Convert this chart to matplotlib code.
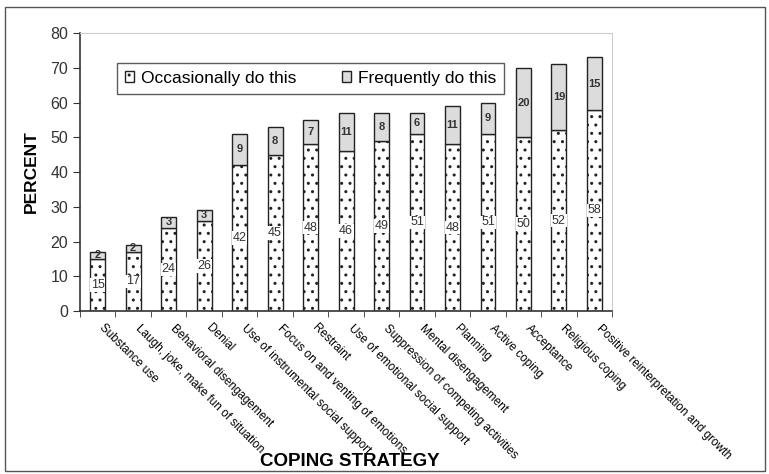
import numpy as np
import matplotlib.pyplot as plt
import matplotlib.transforms as mtransforms
from matplotlib.patches import Rectangle, Patch

plt.rcParams['font.family'] = ['Liberation Sans', 'DejaVu Sans']
plt.rcParams['hatch.linewidth'] = 1.0
plt.rcParams['hatch.color'] = '#777777'

# Coping strategies (x categories)
strategies = ['Substance use', 'Laugh, joke, make fun of situation',
              'Behavioral disengagement', 'Denial',
              'Use of instrumental social support',
              'Focus on and venting of emotions', 'Restraint',
              'Use of emotional social support',
              'Suppression of competing activities', 'Mental disengagement',
              'Planning', 'Active coping', 'Acceptance', 'Religious coping',
              'Positive reinterpretation and growth']

# Percent of respondents
occasionally = [15, 17, 24, 26, 42, 45, 48, 46, 49, 51, 48, 51, 50, 52, 58]
frequently = [2, 2, 3, 3, 9, 8, 7, 11, 8, 6, 11, 9, 20, 19, 15]

fig = plt.figure(figsize=(7.69, 4.74), dpi=100)
ax = fig.add_axes([0.104, 0.344, 0.692, 0.586])

x = np.arange(len(strategies))
w = 0.42
ax.bar(x, occasionally, w, color='white', edgecolor='#222222',
       hatch='..', linewidth=1.0)
ax.bar(x, frequently, w, bottom=occasionally, color='#dcdcdc',
       edgecolor='#222222', linewidth=1.0)

for i in range(len(x)):
    ax.text(x[i], occasionally[i] / 2, str(occasionally[i]), ha='center',
            va='center', fontsize=9, color='#333333',
            bbox=dict(facecolor='white', edgecolor='none', pad=0.5))
    ax.text(x[i], occasionally[i] + frequently[i] / 2, str(frequently[i]),
            ha='center', va='center', fontsize=8, fontweight='bold',
            color='#333333')

ax.set_xlim(-0.5, len(x) - 0.5)
ax.set_ylim(0, 80)
ax.set_yticks(range(0, 81, 10))
ax.tick_params(axis='y', labelsize=11.5, colors='#333333', length=5)
ax.set_xticks(x)
ax.set_xticklabels(strategies, rotation=-45, ha='left', va='top',
                   rotation_mode='anchor', fontsize=8.5)
ax.tick_params(axis='x', length=0, pad=8)
shift = mtransforms.ScaledTranslation(8 / 100, 0, fig.dpi_scale_trans)
for lab in ax.get_xticklabels():
    lab.set_transform(lab.get_transform() + shift)
ax.set_xticks(np.arange(-0.5, len(x), 1), minor=True)
ax.tick_params(axis='x', which='minor', length=4, color='#333333')

for s in ['top', 'right']:
    ax.spines[s].set_color('#cccccc')
    ax.spines[s].set_linewidth(0.8)
ax.spines['left'].set_color('#333333')
ax.spines['bottom'].set_color('#333333')
ax.spines['left'].set_linewidth(1.2)
ax.spines['bottom'].set_linewidth(1.2)

ax.set_ylabel('PERCENT', fontsize=12.5, fontweight='bold', labelpad=8)

leg = ax.legend(handles=[Patch(facecolor='white', edgecolor='#222222', hatch='..'),
                         Patch(facecolor='#dcdcdc', edgecolor='#222222')],
                labels=['Occasionally do this', 'Frequently do this'],
                ncol=2, loc='upper left', bbox_to_anchor=(0.053, 0.924),
                fontsize=12.5, frameon=True, fancybox=False, edgecolor='#333333',
                handlelength=0.55, handleheight=0.55, handletextpad=0.4,
                columnspacing=2.6, borderpad=0.45)
leg.get_frame().set_linewidth(1.0)

fig.text(0.455, 0.027, 'COPING STRATEGY', ha='center', va='center',
         fontsize=13.5, fontweight='bold')

fig.patches.append(Rectangle((0.007, 0.006), 0.988, 0.979, transform=fig.transFigure,
                             fill=False, edgecolor='#555555', linewidth=1.0))

plt.savefig('out.png', dpi=100)
